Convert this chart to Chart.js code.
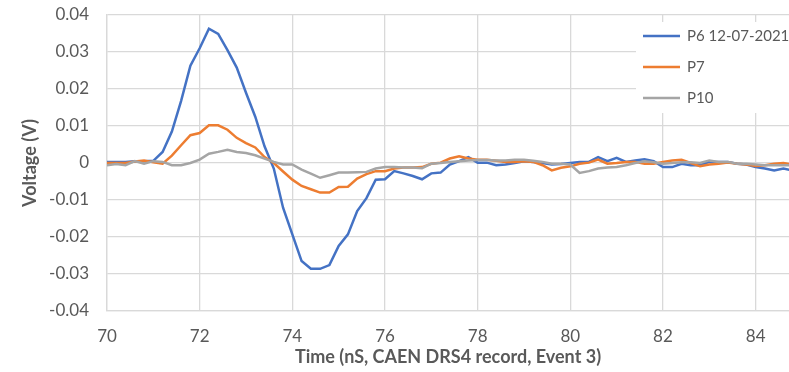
<!DOCTYPE html>
<html>
<head>
<meta charset="utf-8">
<script src="https://cdn.jsdelivr.net/npm/chart.js@4.4.1/dist/chart.umd.min.js"></script>
<style>
    body { margin: 0; background: #fff; }
    #wrap { width: 789px; height: 372px; }
</style>
</head>
<body>
<div id="wrap"><canvas id="pulseChart" width="789" height="372"></canvas></div>
<script>
// sample times (ns)
const times = [
    70.0, 70.2, 70.4, 70.6, 70.8, 71.0, 71.2, 71.4, 71.6, 71.8,
    72.0, 72.2, 72.4, 72.6, 72.8, 73.0, 73.2, 73.4, 73.6, 73.8,
    74.0, 74.2, 74.4, 74.6, 74.8, 75.0, 75.2, 75.4, 75.6, 75.8,
    76.0, 76.2, 76.4, 76.6, 76.8, 77.0, 77.2, 77.4, 77.6, 77.8,
    78.0, 78.2, 78.4, 78.6, 78.8, 79.0, 79.2, 79.4, 79.6, 79.8,
    80.0, 80.2, 80.4, 80.6, 80.8, 81.0, 81.2, 81.4, 81.6, 81.8,
    82.0, 82.2, 82.4, 82.6, 82.8, 83.0, 83.2, 83.4, 83.6, 83.8,
    84.0, 84.2, 84.4, 84.6, 84.8
];

const p6 = [
    0.0003, 0.0003, 0.0003, 0.0005, 0.0005, 0.0006, 0.0030, 0.0085, 0.0168, 0.0263,
    0.0310, 0.0363, 0.0349, 0.0305, 0.0258, 0.0190, 0.0125, 0.0045, -0.0015, -0.0121,
    -0.0193, -0.0265, -0.0286, -0.0286, -0.0276, -0.0224, -0.0193, -0.0130, -0.0095, -0.0045,
    -0.0044, -0.0022, -0.0028, -0.0035, -0.0044, -0.0028, -0.0026, -0.0004, 0.0005, 0.0016,
    0.0001, 0.0001, -0.0006, -0.0004, 0.0000, 0.0005, 0.0003, 0.0000, -0.0004, -0.0003,
    0.0000, 0.0003, 0.0003, 0.0016, 0.0005, 0.0014, 0.0003, 0.0007, 0.0010, 0.0005,
    -0.0011, -0.0011, -0.0002, -0.0006, -0.0006, 0.0003, 0.0003, 0.0003, -0.0002, -0.0004,
    -0.0011, -0.0015, -0.0020, -0.0015, -0.0020
];

const p7 = [
    0.0000, 0.0000, 0.0000, 0.0004, 0.0007, 0.0002, -0.0002, 0.0020, 0.0048, 0.0075,
    0.0081, 0.0102, 0.0102, 0.0090, 0.0068, 0.0054, 0.0042, 0.0016, 0.0000, -0.0023,
    -0.0045, -0.0062, -0.0071, -0.0080, -0.0080, -0.0065, -0.0064, -0.0042, -0.0030, -0.0022,
    -0.0022, -0.0015, -0.0012, -0.0012, -0.0011, -0.0002, 0.0001, 0.0012, 0.0018, 0.0012,
    0.0009, 0.0009, 0.0006, 0.0003, 0.0003, 0.0005, 0.0003, -0.0006, -0.0020, -0.0013,
    -0.0009, -0.0002, 0.0001, 0.0009, -0.0002, 0.0000, 0.0003, 0.0003, -0.0002, -0.0002,
    0.0003, 0.0007, 0.0009, 0.0000, -0.0009, -0.0004, -0.0002, 0.0001, -0.0002, -0.0004,
    -0.0008, -0.0006, -0.0002, 0.0000, -0.0005
];

const p10 = [
    -0.0006, -0.0003, -0.0006, 0.0005, -0.0002, 0.0005, 0.0003, -0.0006, -0.0006, 0.0000,
    0.0009, 0.0025, 0.0030, 0.0036, 0.0030, 0.0027, 0.0021, 0.0012, 0.0003, -0.0004,
    -0.0004, -0.0018, -0.0029, -0.0040, -0.0033, -0.0026, -0.0026, -0.0025, -0.0024, -0.0015,
    -0.0011, -0.0011, -0.0012, -0.0012, -0.0014, -0.0002, 0.0000, 0.0003, 0.0005, 0.0007,
    0.0008, 0.0008, 0.0007, 0.0007, 0.0009, 0.0009, 0.0006, 0.0003, -0.0002, -0.0002,
    -0.0004, -0.0027, -0.0022, -0.0015, -0.0012, -0.0011, -0.0006, 0.0000, 0.0005, 0.0002,
    -0.0002, 0.0000, 0.0002, 0.0002, 0.0000, 0.0007, 0.0003, 0.0003, -0.0002, -0.0002,
    -0.0004, -0.0006, -0.0006, -0.0006, -0.0006
];

const seriesNames = ['P6 12-07-2021', 'P7', 'P10'];
const seriesColors = ['#4472C4', '#ED7D31', '#A5A5A5'];

const FONT = 'Lato, "Open Sans", sans-serif';
const GRID = '#d9d9d9';
const TEXT = '#595959';

const toPoints = (ys) => ys.map((y, i) => ({ x: times[i], y: y }));

// legend sits inside the plot, top right, on a white box like Excel
const insideLegend = {
    id: 'insideLegend',
    afterDraw(chart) {
        const ctx = chart.ctx;
        const area = chart.chartArea;
        ctx.save();
        ctx.fillStyle = '#fff';
        ctx.fillRect(636, area.top + 7, area.right - 636, 113 - area.top - 7);
        ctx.font = '15px ' + FONT;
        ctx.textBaseline = 'middle';
        chart.data.datasets.forEach((ds, i) => {
            const y = 36 + i * 31;
            ctx.strokeStyle = ds.borderColor;
            ctx.lineWidth = 2.5;
            ctx.beginPath();
            ctx.moveTo(643, y);
            ctx.lineTo(680, y);
            ctx.stroke();
            ctx.fillStyle = TEXT;
            ctx.fillText(ds.label, 687, y);
        });
        ctx.restore();
    }
};

new Chart(document.getElementById('pulseChart'), {
    type: 'scatter',
    data: {
        datasets: [p6, p7, p10].map((ys, i) => ({
            label: seriesNames[i],
            data: toPoints(ys),
            showLine: true,
            borderColor: seriesColors[i],
            backgroundColor: seriesColors[i],
            borderWidth: 2.5,
            pointRadius: 0,
            tension: 0,
            order: 3 - i
        }))
    },
    options: {
        responsive: false,
        animation: false,
        layout: { padding: { top: 15, right: 0, left: 0, bottom: 0 } },
        plugins: {
            legend: { display: false },
            tooltip: { enabled: false }
        },
        scales: {
            x: {
                type: 'linear',
                min: 70,
                max: 84.72,
                afterFit: (s) => { s.height = 61; },
                ticks: {
                    stepSize: 2,
                    includeBounds: false,
                    padding: 15,
                    color: TEXT,
                    font: { family: FONT, size: 17 }
                },
                grid: { color: GRID, lineWidth: 1.3, drawTicks: false },
                border: { color: GRID, width: 1.3 },
                title: {
                    display: true,
                    text: 'Time (nS, CAEN DRS4 record, Event 3)',
                    color: TEXT,
                    font: { family: FONT, size: 18, weight: 'bold' },
                    padding: { top: 0, bottom: 4 }
                }
            },
            y: {
                min: -0.04,
                max: 0.04,
                afterFit: (s) => { s.width = 107; },
                ticks: {
                    stepSize: 0.01,
                    padding: 0,
                    color: TEXT,
                    font: { family: FONT, size: 17 },
                    callback: (v) => Math.abs(v) < 1e-9 ? '0' : parseFloat(v.toFixed(2)).toString()
                },
                // invisible tick marks give the gap between labels and plot
                grid: { color: GRID, lineWidth: 1.3, drawTicks: true, tickLength: 18, tickColor: 'rgba(0,0,0,0)' },
                border: { color: GRID, width: 1.3 },
                title: {
                    display: true,
                    text: 'Voltage (V)',
                    color: TEXT,
                    font: { family: FONT, size: 18, weight: 'bold' },
                    padding: { top: 19, bottom: 0 }
                }
            }
        }
    },
    plugins: [insideLegend]
});
</script>
</body>
</html>
